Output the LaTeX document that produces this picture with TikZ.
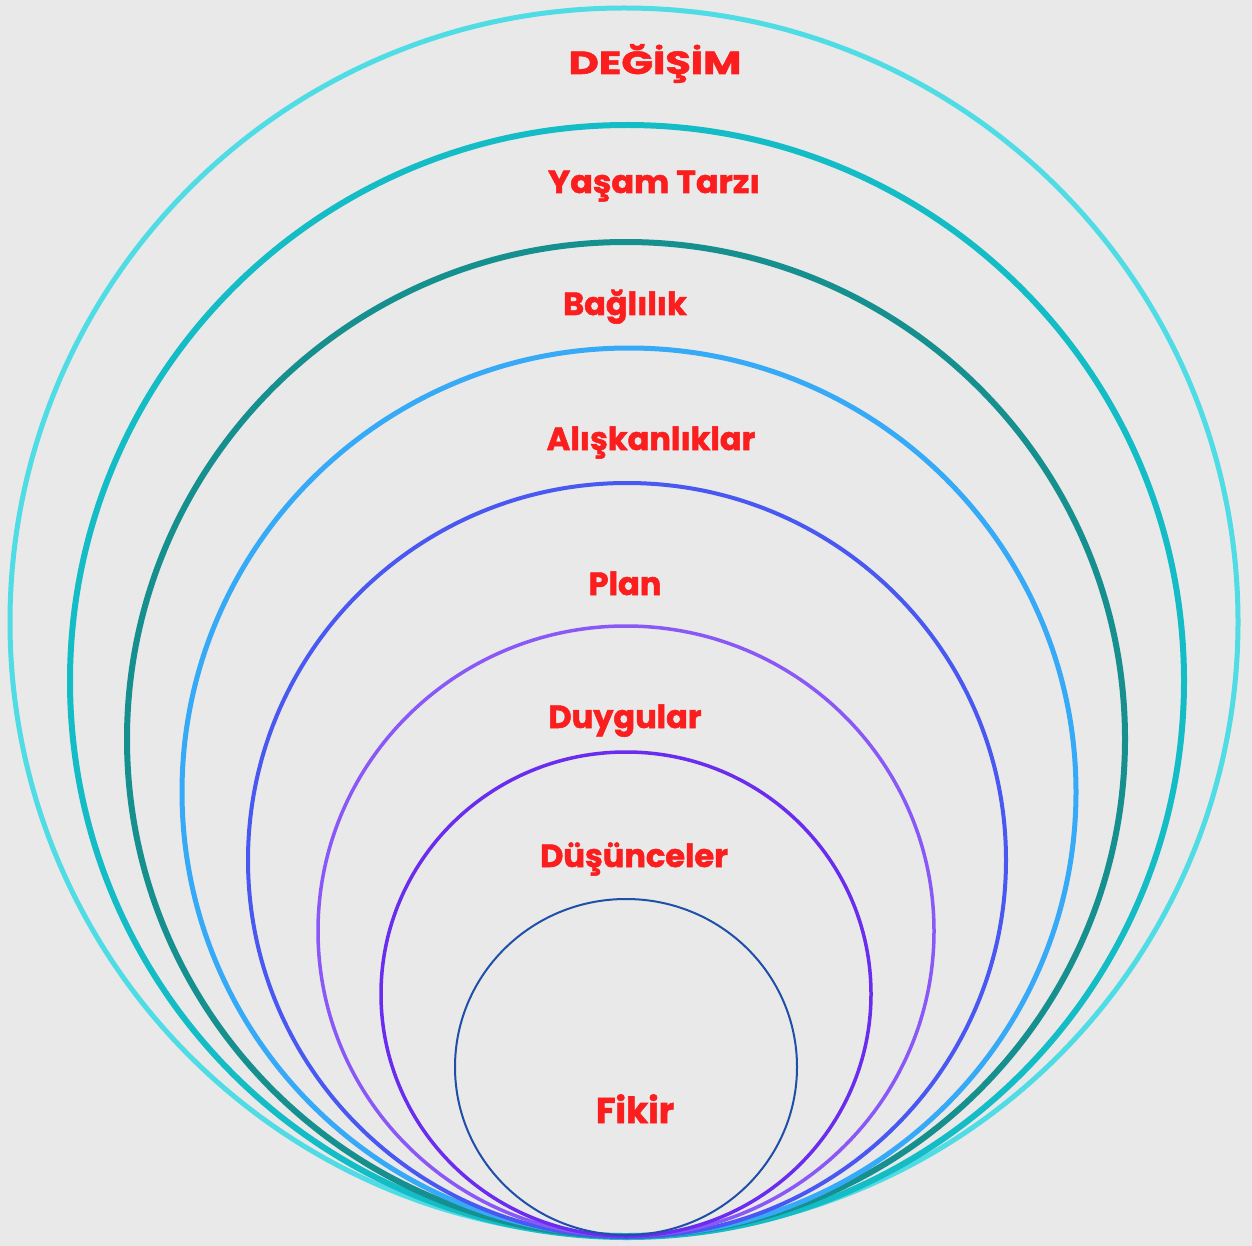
\documentclass[tikz,border=0pt]{standalone}
\usepackage{fontspec}
\setmainfont{Poppins}[BoldFeatures={FakeBold=1.6}]
\begin{document}
\begin{tikzpicture}[x=1pt,y=-1pt,
  ring/.style={line width=#1},
  lbl/.style={text=labelred,font=\fontsize{32}{36}\selectfont\bfseries,anchor=base,inner sep=0pt}]
\definecolor{bg}{HTML}{E9E9E9}
\definecolor{labelred}{HTML}{FA1E1E}
\definecolor{cA}{HTML}{4FDCE4}
\definecolor{cB}{HTML}{14BCC6}
\definecolor{cC}{HTML}{16908F}
\definecolor{cD}{HTML}{36AAF6}
\definecolor{cE}{HTML}{4A58F2}
\definecolor{cF}{HTML}{8A58F6}
\definecolor{cG}{HTML}{6A2CEE}
\definecolor{cH}{HTML}{1F4FA8}
\fill[bg] (0,0) rectangle (1252,1246);
\useasboundingbox (0,0) rectangle (1252,1246);
\draw[cA,ring=5] (624,622) ellipse [x radius=614,y radius=614];
\draw[cB,ring=6] (627,681) ellipse [x radius=557,y radius=556];
\draw[cC,ring=6] (626,739) ellipse [x radius=499,y radius=497];
\draw[cD,ring=5] (629,792) ellipse [x radius=447,y radius=444];
\draw[cE,ring=4] (627,860) ellipse [x radius=379,y radius=377];
\draw[cF,ring=3.5] (626,931) ellipse [x radius=308,y radius=305];
\draw[cG,ring=3.5] (626,994) ellipse [x radius=245,y radius=242];
\draw[cH,ring=2] (626,1067) ellipse [x radius=171,y radius=168];
\node[lbl] (t1) at (655,74) {\scalebox{1.3}[1.0]{DEĞİŞİM}};
\node[lbl] (t2) at (654,193) {\scalebox{1.04}[1.0]{Yaşam Tarzı}};
\node[lbl] (t3) at (625,315) {Bağlılık};
\node[lbl] (t4) at (651,450) {Alışkanlıklar};
\node[lbl] (t5) at (625,595) {Plan};
\node[lbl] (t6) at (625,728) {Duygular};
\node[lbl] (t7) at (634,867) {Düşünceler};
\node[lbl] (t8) at (635,1123) {\scalebox{1.12}{Fikir}};
\end{tikzpicture}
\end{document}
